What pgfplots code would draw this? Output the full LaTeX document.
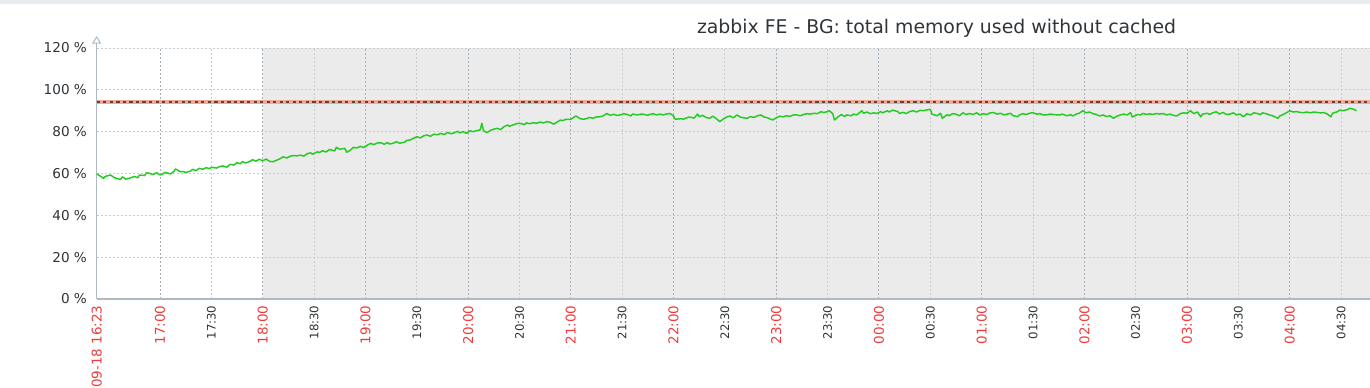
\documentclass[border=0pt]{standalone}
\usepackage{pgfplots}
\pgfplotsset{compat=1.18}
\usepackage{fontspec}
\setmainfont{DejaVu Sans}
\definecolor{bggray}{HTML}{EBEBEB}
\definecolor{topband}{HTML}{E9ECEF}
\definecolor{hourgrid}{HTML}{A3B0BA}
\definecolor{halfgrid}{HTML}{C9CDD1}
\definecolor{axisgray}{HTML}{ACBAC4}
\definecolor{lblred}{HTML}{EE3B3B}
\definecolor{lbldark}{HTML}{2E3438}
\definecolor{linegreen}{HTML}{22CC22}
\definecolor{thrsalmon}{HTML}{F2A893}
\definecolor{thrdark}{HTML}{4A4A4A}
\begin{document}
\begin{tikzpicture}
\fill[topband] (0pt,287.25pt) rectangle (1027.5pt,290.25pt);
\node[anchor=base, text=lbldark, font=\fontsize{14.15}{16}\selectfont] at (702.4pt,265.5pt) {zabbix FE - BG: total memory used without cached};
\begin{axis}[
  set layers,
  scale only axis,
  at={(72.525pt,66pt)}, anchor=south west,
  width=955pt, height=188.25pt,
  xmin=0, xmax=743.9, ymin=0, ymax=120,
  axis x line=bottom, axis y line=left,
  axis line style={-, draw=axisgray, line width=0.9pt},
  xtick={0,37,97,157,217,277,337,397,457,517,577,637,697},
  xticklabels={09-18 16:23,17:00,18:00,19:00,20:00,21:00,22:00,23:00,00:00,01:00,02:00,03:00,04:00},
  xticklabel style={rotate=90, anchor=east, inner ysep=0pt, inner xsep=2.6pt, text=lblred, font=\fontsize{10.1}{12}\selectfont},
  extra x ticks={67,127,187,247,307,367,427,487,547,607,667,727},
  extra x tick labels={17:30,18:30,19:30,20:30,21:30,22:30,23:30,00:30,01:30,02:30,03:30,04:30},
  extra x tick style={grid=major, major x grid style={draw=halfgrid, line width=0.75pt, dash pattern=on 1.5pt off 1.5pt},
     xticklabel style={text=lbldark, font=\fontsize{8.8}{10}\selectfont}},
  ytick={0,20,40,60,80,100,120},
  yticklabels={0 \%,20 \%,40 \%,60 \%,80 \%,100 \%,120 \%},
  yticklabel style={anchor=east, inner sep=0pt, xshift=-5pt, text=lbldark, font=\fontsize{10.2}{12}\selectfont},
  tick style={draw=none},
  grid=major,
  major x grid style={draw=hourgrid, line width=0.75pt, dash pattern=on 1.5pt off 1.5pt},
  major y grid style={draw=halfgrid, line width=0.75pt, dash pattern=on 1.5pt off 1.5pt},
  clip=false,
]
\addplot[on layer=axis background, fill=bggray, draw=none] coordinates {(97,0) (97,120) (743.9,120) (743.9,0)} -- cycle;
\addplot[draw=thrsalmon, line width=3pt] coordinates {(0,94) (743.9,94)};
\addplot[draw=thrdark, line width=1.6pt, dash pattern=on 2.4pt off 2.5pt] coordinates {(0,94) (743.9,94)};
\addplot[draw=linegreen, line width=1.1pt, line join=round] coordinates {
(0,59.8)(2,58.8)(4,57.7)(5,58.6)(8,59.3)(10,58.2)(11,57.8)(14,57.2)(15,58.4)(17,57.3)
(19,57.7)(22,58.6)(24,58.0)(25,59.3)(28,59.0)(29,60.3)(31,60.1)(33,59.5)(35,60.4)(37,59.3)
(39,60.0)(40,60.6)(43,59.8)(45,60.9)(46,62.2)(49,60.8)(50,61.0)(52,60.5)(55,61.2)(56,62.0)
(58,61.4)(60,62.5)(62,62.0)(64,62.8)(66,62.3)(67,63.0)(70,62.6)(72,63.4)(74,63.6)(76,63.0)
(78,64.4)(80,64.0)(82,65.2)(84,64.6)(85,65.7)(87,65.0)(90,66.0)(91,66.6)(93,65.9)(95,66.8)
(97,66.1)(99,66.9)(101,65.8)(103,65.6)(105,66.3)(107,67.0)(109,68.0)(111,67.4)(113,68.3)(115,68.6)
(117,68.4)(119,68.8)(121,68.3)(123,69.5)(125,69.9)(126,69.2)(129,70.4)(130,70.0)(132,70.9)(134,70.3)
(136,71.5)(139,70.8)(140,72.5)(142,71.6)(145,72.0)(146,70.2)(148,71.0)(150,72.5)(152,72.2)(154,73.0)
(156,72.4)(158,73.5)(160,74.4)(162,73.8)(164,74.6)(166,74.7)(168,74.0)(170,74.8)(171,74.1)(173,74.4)
(175,75.2)(177,74.5)(180,75.0)(181,75.8)(183,76.0)(185,76.8)(187,77.6)(189,77.0)(191,78.0)(193,78.4)
(195,77.8)(197,78.8)(199,78.5)(201,79.2)(203,78.6)(205,79.6)(207,79.0)(209,79.5)(211,80.2)(212,79.4)
(214,80.0)(216,79.2)(218,80.4)(220,80.0)(222,80.5)(224,80.8)(225,84.0)(226,80.5)(228,79.5)(230,80.6)
(232,81.2)(234,81.6)(236,81.0)(238,82.4)(240,83.2)(241,82.6)(244,83.4)(245,83.8)(247,84.0)(250,83.4)
(251,84.2)(253,83.8)(255,84.3)(257,84.0)(259,84.6)(261,84.2)(263,84.8)(265,84.5)(267,83.6)(269,84.6)
(271,85.6)(272,85.2)(274,85.9)(277,85.9)(278,86.5)(280,87.5)(282,86.4)(284,85.9)(286,86.2)(288,86.8)
(290,86.4)(292,87.1)(294,87.1)(296,87.6)(298,88.7)(300,87.8)(302,88.3)(304,87.8)(306,88.0)(308,88.6)
(310,88.2)(312,87.5)(313,88.4)(316,88.0)(318,88.4)(319,88.4)(322,87.8)(323,88.2)(325,88.6)(327,88.0)
(329,88.4)(331,88.0)(333,88.5)(335,88.7)(337,87.5)(338,85.9)(341,86.2)(343,86.0)(344,86.4)(346,87.0)
(349,86.5)(351,88.4)(352,87.2)(354,87.8)(356,86.8)(358,86.4)(360,87.4)(362,86.2)(364,84.8)(366,86.0)
(368,87.0)(370,87.5)(372,86.6)(374,88.0)(376,87.0)(378,86.6)(380,86.4)(382,87.2)(384,86.8)(386,87.6)
(388,88.0)(390,87.0)(392,86.6)(393,86.2)(395,85.6)(397,86.6)(399,87.4)(401,87.1)(403,87.6)(405,87.3)
(407,88.0)(409,88.0)(411,87.6)(413,88.2)(415,88.6)(417,88.4)(419,88.8)(421,88.6)(423,89.5)(425,89.2)
(427,89.6)(428,90.0)(430,88.6)(431,85.6)(433,87.0)(435,88.2)(437,87.2)(438,88.0)(441,87.6)(442,88.4)
(444,88.0)(447,90.0)(448,88.8)(450,89.4)(452,88.6)(454,89.0)(456,88.7)(458,89.6)(459,89.0)(462,90.0)
(463,89.4)(465,90.3)(468,89.6)(469,88.7)(471,89.2)(473,88.7)(475,89.6)(477,90.0)(479,89.4)(481,90.2)
(483,90.0)(485,90.4)(487,90.7)(488,88.4)(491,87.6)(493,88.8)(494,86.4)(497,88.2)(498,87.6)(500,88.6)
(502,88.4)(504,87.6)(506,89.0)(508,88.2)(510,88.7)(512,88.2)(514,89.0)(516,88.0)(518,88.6)(520,88.2)
(522,89.0)(524,89.1)(526,88.4)(528,88.8)(530,88.0)(532,88.4)(534,88.8)(535,87.8)(538,87.1)(539,88.0)
(541,88.6)(543,88.2)(545,88.8)(547,89.1)(549,88.4)(551,88.6)(553,88.0)(555,88.0)(557,88.4)(559,88.2)
(561,88.0)(563,88.0)(564,88.4)(567,87.6)(569,88.2)(570,87.5)(573,88.6)(574,88.8)(576,90.0)(578,89.0)
(580,89.4)(582,88.6)(584,88.2)(586,87.5)(588,88.0)(590,87.2)(592,87.6)(594,86.4)(596,87.4)(598,88.0)
(600,88.4)(602,88.0)(604,89.1)(605,87.0)(608,88.2)(610,88.0)(611,88.7)(614,88.2)(615,88.6)(617,88.2)
(619,88.7)(621,88.4)(623,88.7)(625,88.0)(627,88.4)(629,87.8)(631,87.5)(633,88.6)(635,89.0)(637,88.8)
(639,90.0)(641,88.6)(643,89.4)(645,87.1)(646,88.4)(649,88.8)(650,88.2)(652,89.0)(654,89.5)(656,88.4)
(658,89.2)(660,88.2)(662,88.4)(664,89.0)(666,88.0)(668,88.4)(670,87.1)(672,88.6)(674,88.0)(676,89.0)
(678,88.7)(680,88.2)(681,89.0)(684,88.4)(685,88.0)(687,87.6)(690,86.4)(691,87.4)(693,88.2)(695,89.0)
(697,90.0)(699,89.4)(701,89.6)(703,89.2)(705,89.1)(707,89.4)(709,89.0)(711,89.4)(713,89.2)(715,89.0)
(717,89.1)(719,88.4)(721,87.1)(722,88.8)(725,89.6)(726,90.3)(728,90.0)(731,90.6)(732,91.2)(734,90.8)
(736,90.0)
};
\end{axis}
% y-axis extension with open arrow head
\draw[axisgray, line width=0.9pt] (72.525pt,254.25pt) -- (72.525pt,258pt);
\draw[axisgray, line width=0.75pt, fill=white] (69.7pt,258pt) -- (75.35pt,258pt) -- (72.525pt,262.5pt) -- cycle;
\pgfresetboundingbox
\path[use as bounding box] (0pt,0pt) rectangle (1027.5pt,290.25pt);
\end{tikzpicture}
\end{document}
